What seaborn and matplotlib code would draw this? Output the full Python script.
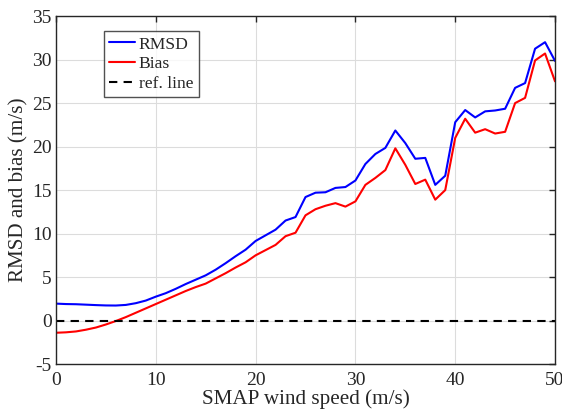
import numpy as np
import pandas as pd
import matplotlib
matplotlib.use("Agg")
import matplotlib.pyplot as plt
import seaborn as sns

wind_speed = list(range(0, 51))
rmsd = [1.95, 1.9, 1.88, 1.83, 1.78, 1.74, 1.73, 1.8, 2.0, 2.3,
        2.75, 3.15, 3.65, 4.2, 4.7, 5.2, 5.85, 6.6, 7.4, 8.15,
        9.15, 9.8, 10.45, 11.5, 11.9, 14.2, 14.7, 14.75, 15.25, 15.35,
        16.1, 18.0, 19.15, 19.85, 21.85, 20.4, 18.6, 18.7, 15.6, 16.65,
        22.8, 24.2, 23.35, 24.05, 24.15, 24.35, 26.75, 27.3, 31.25, 32.0,
        29.85]
bias = [-1.4, -1.35, -1.25, -1.05, -0.8, -0.45, -0.05, 0.4, 0.9, 1.4,
        1.9, 2.4, 2.9, 3.4, 3.85, 4.25, 4.85, 5.45, 6.1, 6.7,
        7.5, 8.1, 8.7, 9.7, 10.1, 12.1, 12.8, 13.2, 13.5, 13.1,
        13.7, 15.6, 16.4, 17.3, 19.8, 17.9, 15.7, 16.2, 13.9, 15.0,
        21.0, 23.2, 21.6, 22.0, 21.5, 21.7, 25.0, 25.6, 29.9, 30.7,
        27.5]
ref_value = 0.0
series_names = ["RMSD", "Bias", "ref. line"]
x_ticks = [0, 10, 20, 30, 40, 50]
y_ticks = [-5, 0, 5, 10, 15, 20, 25, 30, 35]

sns.set_style("white")
plt.rcParams['font.family'] = ['Liberation Serif', 'DejaVu Serif']
plt.rcParams['axes.unicode_minus'] = False

fig = plt.figure(figsize=(5.62, 4.18), dpi=100)
ax = fig.add_axes([0.0996, 0.129, 0.888, 0.8325])

df = pd.DataFrame({"x": wind_speed * 3,
                   "y": rmsd + bias + [ref_value] * len(wind_speed),
                   "series": [series_names[0]] * len(wind_speed)
                             + [series_names[1]] * len(wind_speed)
                             + [series_names[2]] * len(wind_speed)})

sns.lineplot(data=df[df.series == "RMSD"], x="x", y="y", color="#0000ff",
             lw=1.5, ax=ax, label="RMSD")
sns.lineplot(data=df[df.series == "Bias"], x="x", y="y", color="#ff0000",
             lw=1.5, ax=ax, label="Bias")
sns.lineplot(data=df[df.series == "ref. line"], x="x", y="y", color="black",
             lw=1.5, ls=(0, (4, 3)), ax=ax, label="ref. line")

ax.set_xlim(0, 50)
ax.set_ylim(-5, 35)
ax.set_xticks(x_ticks)
ax.set_yticks(y_ticks)
ax.set_xlabel("SMAP wind speed (m/s)", fontsize=15.2, labelpad=0)
ax.set_ylabel("RMSD and bias (m/s)", fontsize=15.2, labelpad=3)
ax.tick_params(direction="in", length=4, width=1, labelsize=14,
               top=True, right=True, pad=3, colors="#262626")
ax.tick_params(axis="x", pad=6)
ax.grid(True, color="#dcdcdc", lw=0.8)
for s in ax.spines.values():
    s.set_color("#262626")
    s.set_linewidth(1.0)

leg = ax.legend(loc="upper left", bbox_to_anchor=(0.096, 0.957), fontsize=12.6,
                frameon=True, fancybox=False, edgecolor="#262626",
                handlelength=1.45, handletextpad=0.25, borderpad=0.3,
                labelspacing=0.2, borderaxespad=0)
leg.get_frame().set_linewidth(1.0)

fig.savefig("out.png", dpi=100)
